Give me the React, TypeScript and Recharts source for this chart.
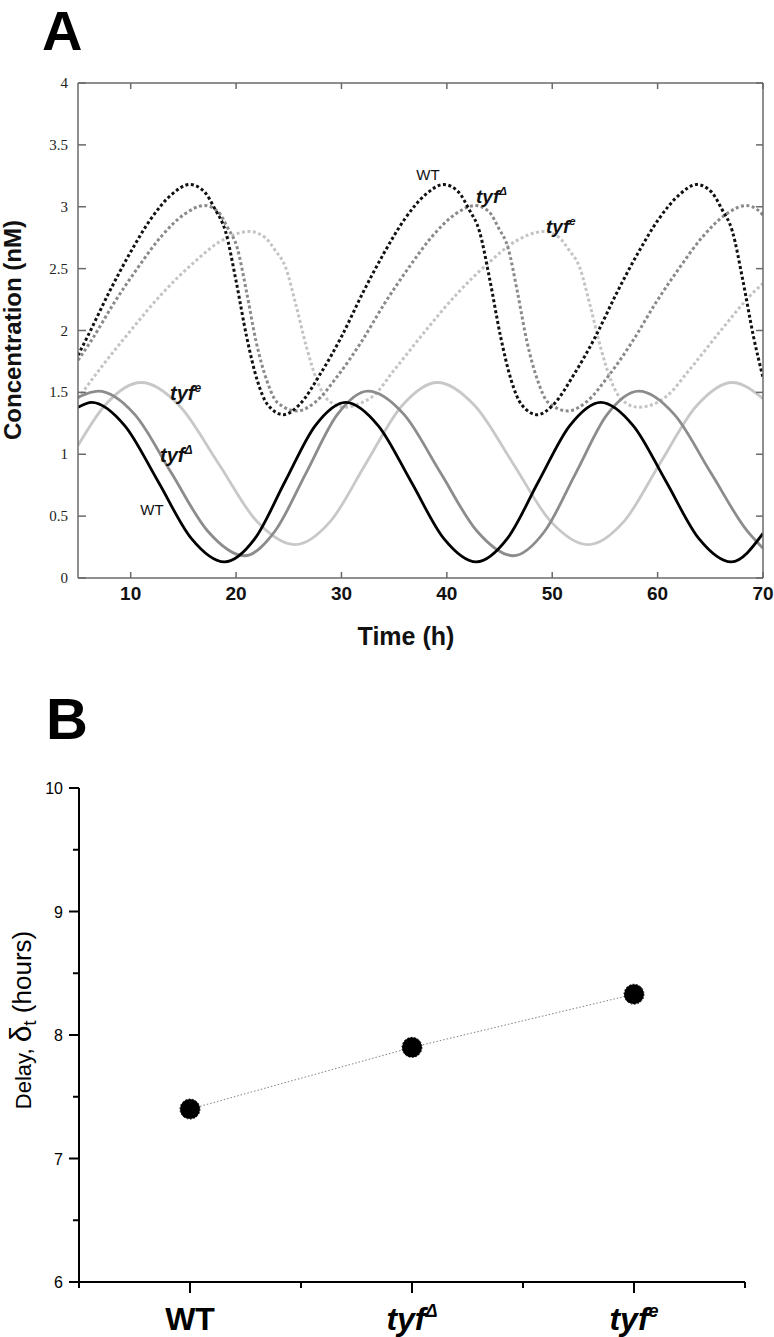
import React from 'react';
import { LineChart, Line, XAxis, YAxis } from 'recharts';

const SANS = '"Liberation Sans", Arial, Helvetica, sans-serif';
const SERIF = '"Liberation Serif", "Times New Roman", serif';

// ---------- Panel A : concentration (nM) vs time (h) ----------
const xTicksA = [10, 20, 30, 40, 50, 60, 70];
const yTicksA = [0, 0.5, 1, 1.5, 2, 2.5, 3, 3.5, 4];

// solid curves
const wtSolidT = [5, 6.3, 9.45, 12.6, 15.75, 18.9, 21.8, 24.65, 27.5, 30.4, 33.5, 36.6, 39.7, 42.8, 45.75, 48.7, 51.65, 54.6, 57.7, 60.8, 63.9, 67.0, 70];
const wtSolidC = [1.38, 1.42, 1.23, 0.78, 0.32, 0.13, 0.32, 0.78, 1.23, 1.42, 1.23, 0.78, 0.32, 0.13, 0.32, 0.78, 1.23, 1.42, 1.23, 0.78, 0.32, 0.13, 0.36];

const deltaSolidT = [5, 6.9, 10.4, 13.85, 17.3, 20.8, 23.7, 26.65, 29.6, 32.5, 35.95, 39.4, 42.85, 46.3, 49.3, 52.25, 55.2, 58.2, 61.6, 65.05, 68.5, 70];
const deltaSolidC = [1.46, 1.51, 1.32, 0.85, 0.38, 0.18, 0.38, 0.85, 1.32, 1.51, 1.32, 0.85, 0.38, 0.18, 0.38, 0.85, 1.32, 1.51, 1.32, 0.85, 0.38, 0.24];

const eSolidT = [5, 7.5, 11, 14.65, 18.3, 21.95, 25.6, 28.97, 32.35, 35.72, 39.1, 42.68, 46.25, 49.83, 53.4, 56.83, 60.25, 63.68, 67.1, 70];
const eSolidC = [1.07, 1.39, 1.58, 1.39, 0.93, 0.46, 0.27, 0.46, 0.93, 1.39, 1.58, 1.39, 0.93, 0.46, 0.27, 0.46, 0.93, 1.39, 1.58, 1.45];

// dotted curves
const wtDotT = [5, 5.9, 7.9, 9.9, 11.9, 13.9, 15.6, 17, 18, 19, 20, 21, 22, 23, 24.5, 26, 28, 30, 32, 34, 36, 38, 39.7, 41.1, 42.1, 43.1, 44.1, 45.1, 46.1, 47.1, 48.6, 50.1, 52.1, 54.1, 56.1, 58.1, 60.1, 62.1, 63.7, 65.1, 66.1, 67.1, 68.1, 69.1, 70];
const wtDotC = [1.8, 1.95, 2.3, 2.62, 2.9, 3.1, 3.18, 3.12, 2.98, 2.8, 2.4, 1.95, 1.6, 1.4, 1.32, 1.4, 1.65, 1.95, 2.3, 2.62, 2.9, 3.1, 3.18, 3.12, 2.98, 2.8, 2.4, 1.95, 1.6, 1.4, 1.32, 1.4, 1.65, 1.95, 2.3, 2.62, 2.9, 3.1, 3.18, 3.12, 2.98, 2.8, 2.4, 1.95, 1.62];

const deltaDotT = [5, 6.2, 8.4, 10.7, 12.9, 15.1, 17, 18.3, 19.2, 20.1, 21, 21.9, 22.9, 23.9, 25.8, 27.5, 29.7, 31.9, 34.1, 36.4, 38.6, 40.8, 42.7, 44, 44.9, 45.8, 46.7, 47.6, 48.6, 49.6, 51.5, 53.2, 55.4, 57.6, 59.8, 62.1, 64.3, 66.5, 68.4, 69.7, 70];
const deltaDotC = [1.76, 1.91, 2.22, 2.51, 2.76, 2.94, 3.01, 2.96, 2.83, 2.67, 2.31, 1.91, 1.6, 1.42, 1.35, 1.42, 1.64, 1.91, 2.22, 2.51, 2.76, 2.94, 3.01, 2.96, 2.83, 2.67, 2.31, 1.91, 1.6, 1.42, 1.35, 1.42, 1.64, 1.91, 2.22, 2.51, 2.76, 2.94, 3.01, 2.96, 2.93];

const eDotT = [5, 7, 10, 13, 16, 18.5, 21.3, 22.7, 23.7, 24.7, 25.7, 26.7, 27.7, 28.7, 30.3, 32, 33, 35, 38, 41, 44, 46.5, 49.2, 50.6, 51.6, 52.6, 53.6, 54.6, 55.6, 56.6, 58.2, 60, 61, 63, 66, 69, 70];
const eDotC = [1.45, 1.68, 2.0, 2.3, 2.55, 2.72, 2.8, 2.755, 2.65, 2.51, 2.2, 1.86, 1.59, 1.44, 1.38, 1.42, 1.47, 1.68, 2.0, 2.3, 2.55, 2.72, 2.8, 2.755, 2.65, 2.51, 2.2, 1.86, 1.59, 1.44, 1.38, 1.42, 1.48, 1.68, 2.0, 2.3, 2.38];

// ---------- Panel B : delay (hours) ----------
const genotypePos = [1, 2, 3];
const genotypeBase = ['WT', 'tyf', 'tyf'];
const genotypeSup = ['', 'Δ', 'e'];
const delayHours = [7.4, 7.9, 8.33];
const xTicksB = [0.5, 1, 1.5, 2, 2.5, 3, 3.5];
const yTicksB = [6, 6.5, 7, 7.5, 8, 8.5, 9, 9.5, 10];

const pts = (T: number[], C: number[]) => T.map((t, i) => ({ t, c: C[i] }));
const delayData = genotypePos.map((x, i) => ({ x, y: delayHours[i] }));

const AX = '#6a6a6a';

function ABottomTick(props: any) {
  const { x, y, payload } = props;
  return (
    <g>
      <line x1={x} x2={x} y1={y} y2={y - 6} stroke={AX} strokeWidth={1.5} />
      <text x={x} y={y + 22} textAnchor="middle" fontFamily={SANS} fontWeight="bold" fontSize={19} fill="#111">
        {payload.value}
      </text>
    </g>
  );
}
function ATopTick(props: any) {
  const { x, y } = props;
  return <line x1={x} x2={x} y1={y} y2={y + 6} stroke={AX} strokeWidth={1.5} />;
}
function ALeftTick(props: any) {
  const { x, y, payload } = props;
  return (
    <g>
      <line x1={x} x2={x + 8} y1={y} y2={y} stroke={AX} strokeWidth={1.5} />
      <text x={x - 10} y={y + 5} textAnchor="end" fontFamily={SERIF} fontSize={15} fill="#222">
        {payload.value}
      </text>
    </g>
  );
}
function ARightTick(props: any) {
  const { x, y } = props;
  return <line x1={x} x2={x - 7} y1={y} y2={y} stroke={AX} strokeWidth={1.5} />;
}

function BXTick(props: any) {
  const { x, y, payload } = props;
  const v = payload.value;
  const idx = genotypePos.indexOf(v);
  const major = idx >= 0;
  return (
    <g>
      <line x1={x} x2={x} y1={y} y2={y + (major ? 11 : 6)} stroke="#000" strokeWidth={2} />
      {major && (
        <text
          x={x}
          y={y + 48}
          textAnchor="middle"
          fontFamily={SANS}
          fontWeight="bold"
          fontStyle={genotypeSup[idx] ? 'italic' : 'normal'}
          fontSize={32}
          fill="#000"
        >
          {genotypeBase[idx]}
          {genotypeSup[idx] && (
            <tspan fontSize={18} dy={-13}>
              {genotypeSup[idx]}
            </tspan>
          )}
        </text>
      )}
    </g>
  );
}
function BYTick(props: any) {
  const { x, y, payload } = props;
  const v = payload.value;
  const major = Number.isInteger(v);
  return (
    <g>
      <line x1={x} x2={x - (major ? 10 : 6)} y1={y} y2={y} stroke="#000" strokeWidth={2} />
      {major && (
        <text x={x - 16} y={y + 6} textAnchor="end" fontFamily={SANS} fontSize={16} fill="#000">
          {v}
        </text>
      )}
    </g>
  );
}

const lineCommon = {
  dot: false as const,
  activeDot: false as const,
  isAnimationActive: false,
  type: 'monotone' as const,
  dataKey: 'c',
};

function SupLabel({ x, y, base, sup, size }: { x: number; y: number; base: string; sup: string; size: number }) {
  return (
    <text x={x} y={y} fontFamily={SANS} fontWeight="bold" fontStyle="italic" fontSize={size} fill="#111">
      {base}
      <tspan fontSize={size * 0.6} dy={-size * 0.4}>
        {sup}
      </tspan>
    </text>
  );
}

export default function App() {
  return (
    <div style={{ position: 'absolute', left: 0, top: 0, width: 774, height: 1337, background: '#fff' }}>
      <div style={{ position: 'absolute', left: 0, top: 0 }}>
        <LineChart width={774} height={660} margin={{ top: 82, right: 10, bottom: 81, left: 77 }}>
          <XAxis
            dataKey="t"
            type="number"
            domain={[5, 70]}
            ticks={xTicksA}
            interval={0}
            allowDataOverflow
            height={1}
            tickSize={0}
            tickMargin={0}
            tick={ABottomTick}
            axisLine={{ stroke: AX, strokeWidth: 1.5 }}
          />
          <XAxis
            xAxisId="top"
            orientation="top"
            dataKey="t"
            type="number"
            domain={[5, 70]}
            ticks={xTicksA}
            interval={0}
            allowDataOverflow
            height={1}
            tickSize={0}
            tickMargin={0}
            tick={ATopTick}
            axisLine={{ stroke: AX, strokeWidth: 1.5 }}
          />
          <YAxis
            type="number"
            domain={[0, 4]}
            ticks={yTicksA}
            interval={0}
            allowDataOverflow
            width={1}
            tickSize={0}
            tickMargin={0}
            tick={ALeftTick}
            axisLine={{ stroke: AX, strokeWidth: 1.5 }}
          />
          <YAxis
            yAxisId="right"
            orientation="right"
            type="number"
            domain={[0, 4]}
            ticks={yTicksA}
            interval={0}
            allowDataOverflow
            width={1}
            tickSize={0}
            tickMargin={0}
            tick={ARightTick}
            axisLine={{ stroke: AX, strokeWidth: 1.5 }}
          />
          <Line {...lineCommon} data={pts(eDotT, eDotC)} stroke="#c4c4c4" strokeWidth={3} strokeDasharray="3 2.5" />
          <Line {...lineCommon} data={pts(deltaDotT, deltaDotC)} stroke="#8a8a8a" strokeWidth={3} strokeDasharray="3 2.5" />
          <Line {...lineCommon} data={pts(wtDotT, wtDotC)} stroke="#111" strokeWidth={3} strokeDasharray="3 2.5" />
          <Line {...lineCommon} data={pts(eSolidT, eSolidC)} stroke="#c8c8c8" strokeWidth={2.8} />
          <Line {...lineCommon} data={pts(deltaSolidT, deltaSolidC)} stroke="#8c8c8c" strokeWidth={2.8} />
          <Line {...lineCommon} data={pts(wtSolidT, wtSolidC)} stroke="#000" strokeWidth={2.8} />
        </LineChart>
      </div>

      <div style={{ position: 'absolute', left: 0, top: 660 }}>
        <LineChart width={774} height={677} data={delayData} margin={{ top: 128, right: 29, bottom: 54, left: 78 }}>
          <XAxis
            dataKey="x"
            type="number"
            domain={[0.5, 3.5]}
            ticks={xTicksB}
            interval={0}
            height={1}
            tickSize={0}
            tickMargin={0}
            tick={BXTick}
            axisLine={{ stroke: '#000', strokeWidth: 2 }}
          />
          <YAxis
            type="number"
            domain={[6, 10]}
            ticks={yTicksB}
            interval={0}
            width={1}
            tickSize={0}
            tickMargin={0}
            tick={BYTick}
            axisLine={{ stroke: '#000', strokeWidth: 2 }}
          />
          <Line
            dataKey="y"
            type="linear"
            stroke="#808080"
            strokeWidth={1}
            strokeDasharray="1.5 2"
            dot={{ r: 10, fill: '#000', stroke: '#000', strokeWidth: 1 }}
            activeDot={false}
            isAnimationActive={false}
          />
        </LineChart>
      </div>

      <svg
        width={774}
        height={1337}
        style={{ position: 'absolute', left: 0, top: 0, pointerEvents: 'none' }}
      >
        <text x={42} y={50} fontFamily={SANS} fontWeight="bold" fontSize={56} fill="#000">A</text>
        <text x={46} y={739} fontFamily={SANS} fontWeight="bold" fontSize={58} fill="#000">B</text>

        <text
          transform="translate(21,330) rotate(-90)"
          textAnchor="middle"
          fontFamily={SANS}
          fontWeight="bold"
          fontSize={24}
          fill="#111"
        >
          Concentration (nM)
        </text>
        <text x={406} y={645} textAnchor="middle" fontFamily={SANS} fontWeight="bold" fontSize={25} fill="#111">
          Time (h)
        </text>

        <SupLabel x={170} y={400} base="tyf" sup="e" size={20} />
        <SupLabel x={160} y={462} base="tyf" sup="Δ" size={20} />
        <text x={152} y={515} textAnchor="middle" fontFamily={SANS} fontSize={15} fill="#111">WT</text>

        <text x={428} y={180} textAnchor="middle" fontFamily={SANS} fontSize={15} fill="#111">WT</text>
        <SupLabel x={476} y={203} base="tyf" sup="Δ" size={19} />
        <SupLabel x={546} y={233} base="tyf" sup="e" size={19} />

        <text
          transform="translate(31,1020) rotate(-90)"
          textAnchor="middle"
          fontFamily={SANS}
          fill="#000"
        >
          <tspan fontSize={22}>Delay, </tspan>
          <tspan fontSize={30}>δ</tspan>
          <tspan fontSize={19} dy={5}>t</tspan>
          <tspan fontSize={26} dy={-5}>{'  (hours)'}</tspan>
        </text>
      </svg>
    </div>
  );
}
